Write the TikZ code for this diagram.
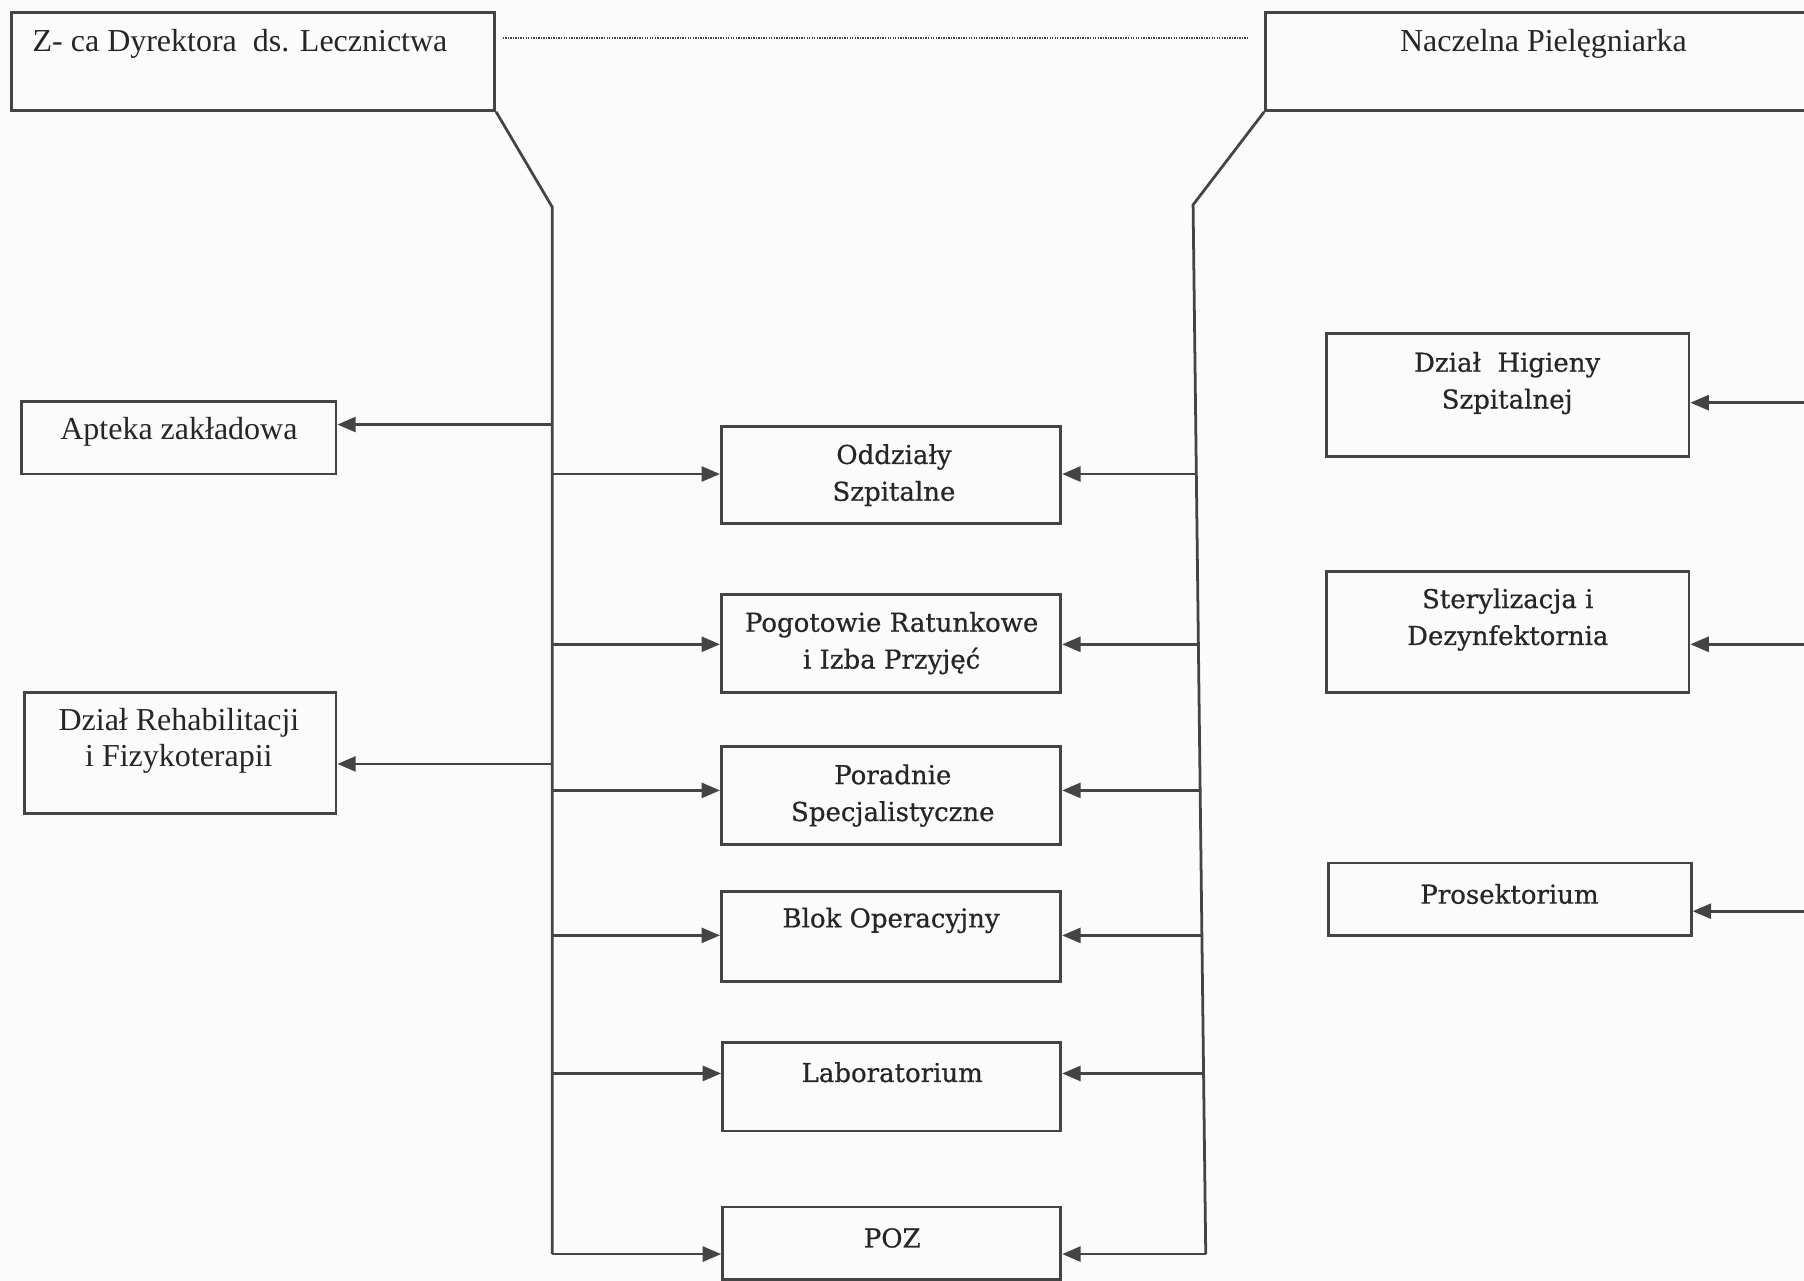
\documentclass[tikz,border=0pt]{standalone}
\usepackage{fontspec}
\setmainfont{Liberation Serif}
\newfontfamily\boxfont[FakeBold=0.6]{DejaVu Serif}
\usetikzlibrary{arrows.meta,calc}
\definecolor{ink}{HTML}{444444}
\definecolor{txt}{HTML}{262626}
\definecolor{paper}{HTML}{FBFBFB}
\begin{document}
\begin{tikzpicture}[x=0.5pt,y=-0.5pt,
  box/.style={draw=ink,line width=1.2pt,inner sep=0pt,rectangle},
  conn/.style={draw=ink,line width=1.2pt},
  arr/.style={conn,-{Triangle[length=8pt,width=6.5pt]}},
  dotline/.style={draw=ink,line width=0.7pt,dash pattern=on 0.6pt off 0.5pt},
  ttext/.style={inner sep=0pt,text=txt,font=\fontsize{13.9}{16}\selectfont,align=center},
  btext/.style={inner sep=0pt,text=txt,font=\boxfont\fontsize{11.3}{16}\selectfont,align=center}]
\useasboundingbox (0,0) rectangle (1568,1113);
\fill[paper] (0,0) rectangle (1568,1113);
\clip (0,0) rectangle (1568,1113);

% boxes
\node[box,minimum width=210pt,minimum height=42.5pt] (dyr) at (220,53.5) {};
\node[box,minimum width=250pt,minimum height=42.5pt] (nacz) at (1350,53.5) {};
\node[box,minimum width=136.5pt,minimum height=31.5pt] (apteka) at (155.5,380.5) {};
\node[box,minimum width=135.5pt,minimum height=52.5pt] (rehab) at (156.5,654.5) {};
\node[box,minimum width=147.5pt,minimum height=42pt] (oddz) at (774.5,413) {};
\node[box,minimum width=147.5pt,minimum height=42.5pt] (pogot) at (774.5,559.5) {};
\node[box,minimum width=147.5pt,minimum height=42.5pt] (porad) at (774.5,691.5) {};
\node[box,minimum width=147.5pt,minimum height=39pt] (blok) at (774.5,814) {};
\node[box,minimum width=147pt,minimum height=38.5pt] (lab) at (775,944.5) {};
\node[box,minimum width=147pt,minimum height=31.5pt] (poz) at (775,1080.5) {};
\node[box,minimum width=157.5pt,minimum height=53.5pt] (hig) at (1310.5,343.5) {};
\node[box,minimum width=157.5pt,minimum height=52.5pt] (ster) at (1310.5,549.5) {};
\node[box,minimum width=157.5pt,minimum height=31.5pt] (pros) at (1312.5,781.5) {};

% texts
\node[ttext,anchor=west] (dyr-t) at (28,38) {Z- ca Dyrektora\ \ ds. Lecznictwa};
\node[ttext] (nacz-t) at (1341.5,38) {Naczelna Pielęgniarka};
\node[ttext] (apteka-t) at (155.5,375) {Apteka zakładowa};
\node[ttext] (rehab-t) at (155.5,644) {Dział Rehabilitacji\\i Fizykoterapii};
\node[btext] (oddz-t) at (777,413) {Oddziały\\Szpitalne};
\node[btext] (pogot-t) at (775,559) {Pogotowie Ratunkowe\\i Izba Przyjęć};
\node[btext] (porad-t) at (776,691.5) {Poradnie\\Specjalistyczne};
\node[btext] (blok-t) at (774.5,800) {Blok Operacyjny};
\node[btext] (lab-t) at (775.5,932) {Laboratorium};
\node[btext] (poz-t) at (775.5,1076) {POZ};
\node[btext] (hig-t) at (1310,333) {Dział\ \ Higieny\\Szpitalnej};
\node[btext] (ster-t) at (1310.5,538.5) {Sterylizacja i\\Dezynfektornia};
\node[btext] (pros-t) at (1312,777) {Prosektorium};

% dotted link between the two heads
\coordinate (d1) at (437,33);
\coordinate (d2) at (1085,33);
\draw[dotline] (d1) -- (d2);

% left trunk
\coordinate (lt) at (480,180);
\coordinate (lb) at (480,1090);
\draw[conn] (dyr.south east) -- (lt) -- (lb);
\draw[arr] (lb) -- (lb -| poz.west);
\coordinate (la) at (480,369);
\coordinate (lo) at (480,412);
\coordinate (lp) at (480,560);
\coordinate (lr) at (480,664);
\coordinate (lq) at (480,687);
\coordinate (lk) at (480,813);
\coordinate (ll) at (480,933);
\draw[arr] (la) -- (la -| apteka.east);
\draw[arr] (lo) -- (lo -| oddz.west);
\draw[arr] (lp) -- (lp -| pogot.west);
\draw[arr] (lr) -- (lr -| rehab.east);
\draw[arr] (lq) -- (lq -| porad.west);
\draw[arr] (lk) -- (lk -| blok.west);
\draw[arr] (ll) -- (ll -| lab.west);

% right trunk
\coordinate (rt) at (1037,178);
\coordinate (rb) at (1048,1090);
\draw[conn] (nacz.south west) -- (rt) -- (rb);
\draw[arr] (rb) -- (rb -| poz.east);
\coordinate (ro) at ($(rt)!0.2566!(rb)$);
\coordinate (rp) at ($(rt)!0.4189!(rb)$);
\coordinate (rq) at ($(rt)!0.5581!(rb)$);
\coordinate (rk) at ($(rt)!0.6963!(rb)$);
\coordinate (rl) at ($(rt)!0.8279!(rb)$);
\draw[arr] (ro) -- (ro -| oddz.east);
\draw[arr] (rp) -- (rp -| pogot.east);
\draw[arr] (rq) -- (rq -| porad.east);
\draw[arr] (rk) -- (rk -| blok.east);
\draw[arr] (rl) -- (rl -| lab.east);

% arrows entering from the right edge
\coordinate (eh) at (1590,350);
\coordinate (es) at (1590,560);
\coordinate (ep) at (1590,792);
\draw[arr] (eh) -- (eh -| hig.east);
\draw[arr] (es) -- (es -| ster.east);
\draw[arr] (ep) -- (ep -| pros.east);
\end{tikzpicture}
\end{document}
